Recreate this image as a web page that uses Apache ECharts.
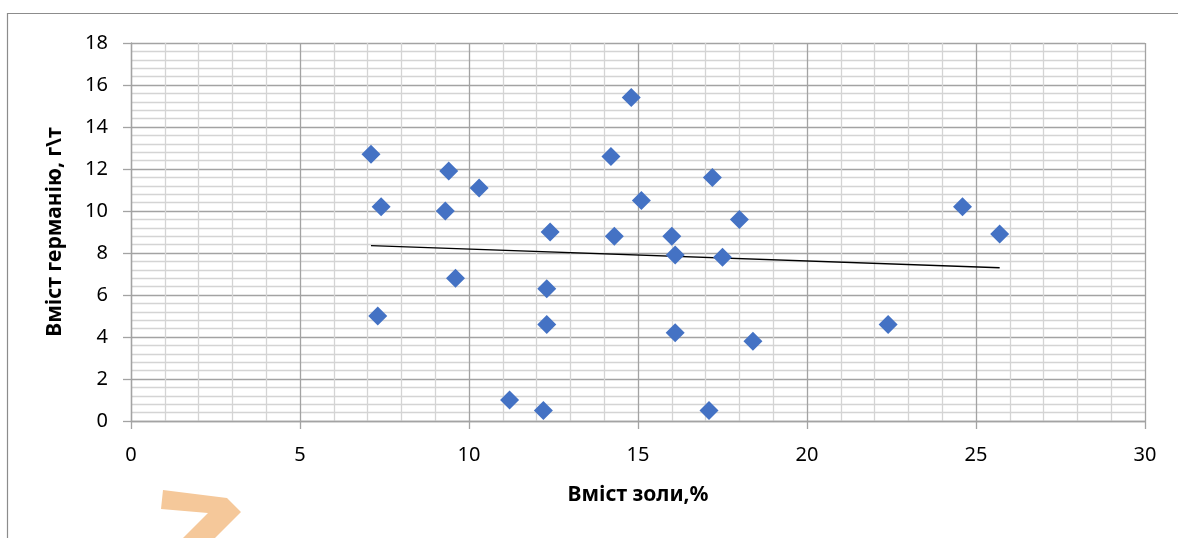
<!DOCTYPE html>
<html>
<head>
<meta charset="utf-8">
<script src="https://cdn.jsdelivr.net/npm/echarts@6/dist/echarts.min.js"></script>
<style>
  html, body { margin: 0; padding: 0; background: #fff; }
  #chart { width: 1178px; height: 538px; }
</style>
</head>
<body>
<div id="chart"></div>
<script>
// Ash content (%) of each sample
const ashContent = [7.1, 7.4, 7.3, 9.4, 9.3, 9.6, 10.3, 11.2, 12.2, 12.4, 12.3, 12.3,
  14.2, 14.3, 14.8, 15.1, 16.0, 16.1, 16.1, 17.2, 17.1, 17.5, 18.0, 18.4, 22.4, 24.6, 25.7];
// Germanium content (g/t) of each sample
const germanium = [12.7, 10.2, 5.0, 11.9, 10.0, 6.8, 11.1, 1.0, 0.5, 9.0, 6.3, 4.6,
  12.6, 8.8, 15.4, 10.5, 8.8, 7.9, 4.2, 11.6, 0.5, 7.8, 9.6, 3.8, 4.6, 10.2, 8.9];

const xTitle = 'Вміст золи,%';
const yTitle = 'Вміст германію, г\\т';

// Linear least-squares trend line over the sample range
function linearTrend(xs, ys) {
  const n = xs.length;
  let sx = 0, sy = 0, sxx = 0, sxy = 0;
  for (let i = 0; i < n; i++) {
    sx += xs[i]; sy += ys[i]; sxx += xs[i] * xs[i]; sxy += xs[i] * ys[i];
  }
  const slope = (n * sxy - sx * sy) / (n * sxx - sx * sx);
  const icpt = (sy - slope * sx) / n;
  const x0 = Math.min(...xs), x1 = Math.max(...xs);
  return [[x0, icpt + slope * x0], [x1, icpt + slope * x1]];
}

const points = ashContent.map((x, i) => [x, germanium[i]]);
const trend = linearTrend(ashContent, germanium);

const FONT = '"Noto Sans", "Open Sans", sans-serif';
const major = '#a3a3a3';
const minor = '#d4d4d4';

const chart = echarts.init(document.getElementById('chart'), null, { renderer: 'canvas' });
chart.setOption({
  animation: false,
  backgroundColor: '#ffffff',
  graphic: [
    {
      type: 'rect',
      shape: { x: 7.5, y: 13.5, width: 1220, height: 600 },
      style: { fill: 'none', stroke: '#8c8c8c', lineWidth: 1.2 },
      silent: true, z: -10
    },
    {
      type: 'polygon',
      shape: { points: [[163, 490], [227, 498], [241, 512], [215, 538], [183, 538], [208, 513], [161, 509]] },
      style: { fill: '#f5c89a' },
      silent: true
    }
  ],
  grid: { left: 131, top: 43, right: 33, bottom: 117, containLabel: false },
  xAxis: {
    type: 'value', min: 0, max: 30, interval: 5,
    name: xTitle, nameLocation: 'middle', nameGap: 64,
    nameTextStyle: { fontFamily: FONT, fontSize: 21, fontWeight: 'bold', color: '#000' },
    axisLine: { show: true, onZero: false, lineStyle: { color: major, width: 1.3 } },
    axisTick: { show: true, length: 8, lineStyle: { color: major, width: 1.3 } },
    axisLabel: { fontFamily: FONT, fontSize: 20, color: '#000', margin: 24 },
    splitLine: { show: true, lineStyle: { color: major, width: 1.3 } },
    minorTick: { show: false, splitNumber: 5 },
    minorSplitLine: { show: true, lineStyle: { color: minor, width: 1.3 } }
  },
  yAxis: {
    type: 'value', min: 0, max: 18, interval: 2,
    name: yTitle, nameLocation: 'middle', nameGap: 65, nameRotate: 90,
    nameTextStyle: { fontFamily: FONT, fontSize: 21, fontWeight: 'bold', color: '#000' },
    axisLine: { show: true, onZero: false, lineStyle: { color: major, width: 1.3 } },
    axisTick: { show: true, length: 8, lineStyle: { color: major, width: 1.3 } },
    axisLabel: { fontFamily: FONT, fontSize: 20, color: '#000', margin: 23 },
    splitLine: { show: true, lineStyle: { color: major, width: 1.3 } },
    minorTick: { show: false, splitNumber: 5 },
    minorSplitLine: { show: true, lineStyle: { color: minor, width: 1.3 } }
  },
  series: [
    {
      type: 'line',
      data: trend,
      showSymbol: false,
      symbol: 'none',
      lineStyle: { color: '#000', width: 1.3 },
      z: 3
    },
    {
      type: 'scatter',
      data: points,
      symbol: 'diamond',
      symbolSize: [19, 19],
      itemStyle: { color: '#4472c4', opacity: 1 },
      z: 4
    }
  ]
});
</script>
</body>
</html>
